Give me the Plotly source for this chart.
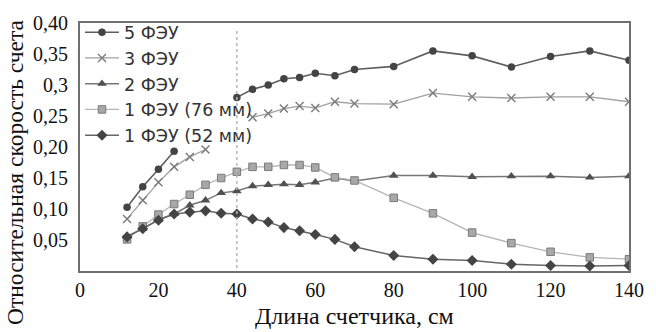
import plotly.graph_objects as go

# ---- data ----
x_pmt5 = [12, 16, 20, 24, None, 40, 44, 48, 52, 56, 60, 65, 70, 80, 90, 100, 110, 120, 130, 140]
y_pmt5 = [0.103, 0.136, 0.164, 0.193, None, 0.280, 0.293, 0.300, 0.310, 0.312, 0.319, 0.315, 0.325, 0.330, 0.355, 0.347, 0.329, 0.346, 0.355, 0.340]

x_pmt3 = [12, 16, 20, 24, 28, 32, None, 44, 48, 52, 56, 60, 65, 70, 80, 90, 100, 110, 120, 130, 140]
y_pmt3 = [0.084, 0.114, 0.143, 0.168, 0.184, 0.196, None, 0.248, 0.254, 0.262, 0.266, 0.263, 0.273, 0.270, 0.269, 0.287, 0.281, 0.279, 0.281, 0.281, 0.273]

x_full = [12, 16, 20, 24, 28, 32, 36, 40, 44, 48, 52, 56, 60, 65, 70, 80, 90, 100, 110, 120, 130, 140]
y_pmt2 = [0.056, 0.068, 0.083, 0.092, 0.106, 0.114, 0.126, 0.129, 0.137, 0.139, 0.140, 0.139, 0.143, 0.150, 0.145, 0.154, 0.154, 0.152, 0.153, 0.153, 0.151, 0.153]
y_pmt1_76 = [0.051, 0.072, 0.091, 0.108, 0.123, 0.139, 0.150, 0.160, 0.168, 0.168, 0.171, 0.171, 0.167, 0.151, 0.146, 0.118, 0.093, 0.062, 0.045, 0.031, 0.022, 0.019]
y_pmt1_52 = [0.055, 0.068, 0.082, 0.092, 0.095, 0.097, 0.093, 0.092, 0.084, 0.079, 0.070, 0.065, 0.059, 0.051, 0.039, 0.025, 0.019, 0.017, 0.011, 0.009, 0.008, 0.009]

names = ["5 ФЭУ", "3 ФЭУ", "2 ФЭУ", "1 ФЭУ (76 мм)", "1 ФЭУ (52 мм)"]

x_ticks = [0, 20, 40, 60, 80, 100, 120, 140]
y_ticks = [0.05, 0.10, 0.15, 0.20, 0.25, 0.30, 0.35, 0.40]
y_ticktext = ["0,05", "0,10", "0,15", "0,20", "0,25", "0,3", "0,35", "0,40"]
x_title = "Длина счетчика, см"
y_title = "Относительная скорость счета"
VLINE_X = 40

fig = go.Figure()
fig.add_trace(go.Scatter(x=x_pmt5, y=y_pmt5, name=names[0], mode="lines+markers",
                         line=dict(color="#5e5e5e", width=1.6),
                         marker=dict(symbol="circle", size=7.5, color="#444444")))
fig.add_trace(go.Scatter(x=x_pmt3, y=y_pmt3, name=names[1], mode="lines+markers",
                         line=dict(color="#a0a0a0", width=1.3),
                         marker=dict(symbol="x-thin", size=8, color="#7a7a7a",
                                     line=dict(color="#7a7a7a", width=1.4))))
fig.add_trace(go.Scatter(x=x_full, y=y_pmt2, name=names[2], mode="lines+markers",
                         line=dict(color="#777777", width=1.5),
                         marker=dict(symbol="triangle-up", size=8.5, color="#505050")))
fig.add_trace(go.Scatter(x=x_full, y=y_pmt1_76, name=names[3], mode="lines+markers",
                         line=dict(color="#b5b5b5", width=1.3),
                         marker=dict(symbol="square", size=7.5, color="#a8a8a8",
                                     line=dict(color="#7a7a7a", width=1))))
fig.add_trace(go.Scatter(x=x_full, y=y_pmt1_52, name=names[4], mode="lines+markers",
                         line=dict(color="#666666", width=1.5),
                         marker=dict(symbol="diamond", size=8.5, color="#444444")))

fig.add_shape(type="line", x0=VLINE_X, x1=VLINE_X, y0=0.005, y1=0.39,
              xref="x", yref="y", line=dict(color="#b8b8b8", width=1.5, dash="dot"))

serif = "Liberation Serif"
fig.add_annotation(text=y_title, textangle=-90, xref="paper", yref="paper",
                   x=-0.118, y=0.40, xanchor="center", yanchor="middle", showarrow=False,
                   font=dict(family=serif, size=23.5, color="#111111"))
fig.add_annotation(text=x_title, xref="paper", yref="paper",
                   x=0.5, y=-0.183, xanchor="center", yanchor="middle", showarrow=False,
                   font=dict(family=serif, size=24, color="#111111"))

fig.update_layout(
    width=656, height=332,
    margin=dict(l=80, r=23, t=14, b=61),
    paper_bgcolor="white", plot_bgcolor="white",
    showlegend=True,
    legend=dict(x=0.0, y=1.035, xanchor="left", yanchor="top",
                bgcolor="rgba(0,0,0,0)", borderwidth=0,
                font=dict(family="DejaVu Sans", size=17.5, color="#333333"),
                itemwidth=34),
    xaxis=dict(range=[0, 140], tickvals=x_ticks, ticks="", showgrid=False, zeroline=False,
               showline=True, linecolor="#707070", linewidth=2, mirror=True,
               tickfont=dict(family=serif, size=20, color="#111111")),
    yaxis=dict(range=[0, 0.40], tickvals=y_ticks, ticktext=y_ticktext, ticks="",
               showgrid=False, zeroline=False, ticklabelstandoff=6,
               showline=True, linecolor="#707070", linewidth=2, mirror=True,
               tickfont=dict(family=serif, size=20, color="#111111")),
)

fig.write_html("out.html")
